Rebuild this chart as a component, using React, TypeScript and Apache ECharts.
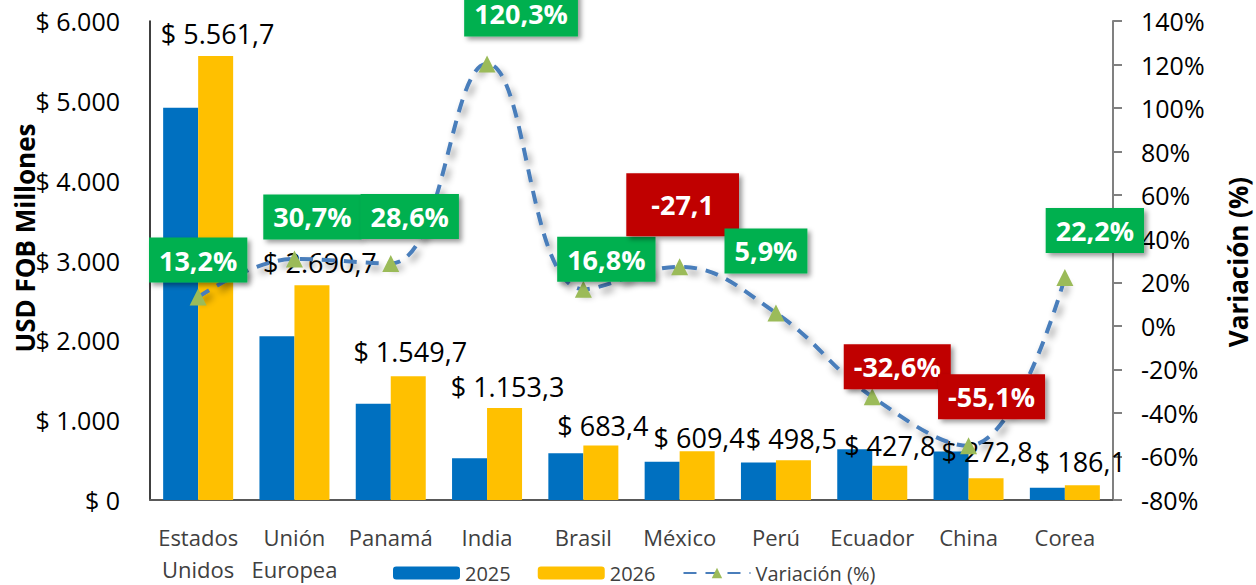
import React, { useEffect, useRef } from "react";
import * as echarts from "echarts";

const categories = ["Estados\nUnidos", "Unión\nEuropea", "Panamá", "India", "Brasil", "México", "Perú", "Ecuador", "China", "Corea"];
const values2025 = [4913, 2052, 1205, 523.5, 585, 479.5, 470.7, 634.7, 607.6, 152.3];
const values2026 = [5561.7, 2690.7, 1549.7, 1153.3, 683.4, 609.4, 498.5, 427.8, 272.8, 186.1];
const variation = [13.2, 30.7, 28.6, 120.3, 16.8, 27.1, 5.9, -32.6, -55.1, 22.2];
const variationLabels = ["13,2%", "30,7%", "28,6%", "120,3%", "16,8%", "-27,1", "5,9%", "-32,6%", "-55,1%", "22,2%"];
const leftTicks = { min: 0, max: 6000, interval: 1000 };
const rightTicks = { min: -80, max: 140, interval: 20 };

// label placement (layout only)
const varLabelOffsets = [[0, -37], [18, -42], [19, -47], [34, -50], [23, -30], [3, -62], [-10, -62], [25, -30], [23, -49], [30, -47]];
const valLabelOffsets = [[2, -1], [8, -1], [2, -3], [3, 0], [2, 2], [2, 8], [-2, 0], [0, 1], [1, -5], [-2, -2]];

const FONT = "'Open Sans', 'Noto Sans', sans-serif";

function fmtNum(v: number, dec: number): string {
  const s = v.toFixed(dec);
  const [i, d] = s.split(".");
  const neg = i.startsWith("-");
  const digits = neg ? i.slice(1) : i;
  const withSep = digits.replace(/\B(?=(\d{3})+(?!\d))/g, ".");
  return (neg ? "-" : "") + withSep + (d ? "," + d : "");
}

export default function App() {
  const ref = useRef<HTMLDivElement>(null);
  useEffect(() => {
    if (!ref.current) return;
    const chart = echarts.init(ref.current, null, { renderer: "svg" });
    const option: any = {
      animation: false,
      backgroundColor: "#ffffff",
      textStyle: { fontFamily: FONT },
      grid: { left: 150, right: 143, top: 21, bottom: 81, containLabel: false },
      legend: {
        left: 388,
        top: 558,
        itemWidth: 67,
        itemHeight: 13,
        itemGap: 27,
        textStyle: { fontFamily: FONT, fontSize: 20, color: "#404040" },
        data: ["2025", "2026", "Variación (%)"],
      },
      xAxis: {
        type: "category",
        data: categories,
        axisLine: { lineStyle: { color: "#595959", width: 2 } },
        axisTick: { show: false },
        axisLabel: { interval: 0, color: "#404040", fontSize: 22, lineHeight: 32, margin: 21, fontFamily: FONT },
      },
      yAxis: [
        {
          type: "value",
          min: leftTicks.min,
          max: leftTicks.max,
          interval: leftTicks.interval,
          splitLine: { show: false },
          axisLine: { show: true, lineStyle: { color: "#000000", width: 1.5 } },
          axisTick: { show: false },
          axisLabel: {
            margin: 30,
            color: "#000000",
            fontSize: 25,
            fontFamily: FONT,
            formatter: (v: number) => "$ " + fmtNum(v, 0),
          },
        },
        {
          type: "value",
          min: rightTicks.min,
          max: rightTicks.max,
          interval: rightTicks.interval,
          splitLine: { show: false },
          axisLine: { show: true, lineStyle: { color: "#808080", width: 2 } },
          axisTick: { show: true, length: 9, lineStyle: { color: "#808080", width: 2 } },
          axisLabel: { margin: 28, color: "#000000", fontSize: 25, fontFamily: FONT, formatter: "{value}%" },
        },
      ],
      series: [
        {
          name: "2025",
          type: "bar",
          data: values2025,
          barWidth: 35,
          barGap: "0%",
          itemStyle: { color: "#0070C0" },
        },
        {
          name: "2026",
          type: "bar",
          data: values2026.map((v, i) => ({
            value: v,
            label: { offset: valLabelOffsets[i] },
          })),
          barWidth: 35,
          itemStyle: { color: "#FFC000" },
          label: {
            show: true,
            position: "top",
            distance: 8,
            color: "#000000",
            fontSize: 27,
            fontFamily: FONT,
            formatter: (p: any) => "$ " + fmtNum(p.value, 1),
          },
          z: 3,
        },
        {
          name: "Variación (%)",
          type: "line",
          yAxisIndex: 1,
          smooth: 0.4,
          symbol: "triangle",
          symbolSize: 17,
          itemStyle: { color: "#9BBB59" },
          lineStyle: {
            color: "#4A7EBB",
            width: 4,
            type: [13, 9],
            shadowColor: "rgba(0,0,0,0.45)",
            shadowBlur: 7,
            shadowOffsetX: 3,
            shadowOffsetY: 5,
          },
          data: variation.map((v, i) => {
            const neg = variationLabels[i].startsWith("-");
            const big = i === 5;
            return {
              value: v,
              label: {
                offset: varLabelOffsets[i],
                backgroundColor: neg ? "#C00000" : "#00B050",
                padding: big ? [17, 25, 17, 25] : [8, 10, 8, 10],
              },
            };
          }),
          label: {
            show: true,
            position: "inside",
            color: "#ffffff",
            fontWeight: "bold",
            fontSize: 27,
            fontFamily: FONT,
            lineHeight: 29,
            shadowColor: "rgba(0,0,0,0.4)",
            shadowBlur: 5,
            shadowOffsetX: 3,
            shadowOffsetY: 3,
            formatter: (p: any) => variationLabels[p.dataIndex],
          },
          z: 5,
        },
      ],
      graphic: [
        {
          type: "text",
          x: 25,
          y: 238,
          rotation: Math.PI / 2,
          style: {
            text: "USD FOB Millones",
            fontFamily: FONT,
            fontSize: 26,
            fontWeight: "bold",
            fill: "#000000",
            textAlign: "center",
            textVerticalAlign: "middle",
          },
        },
        {
          type: "text",
          x: 1238,
          y: 262,
          rotation: Math.PI / 2,
          style: {
            text: "Variación (%)",
            fontFamily: FONT,
            fontSize: 26,
            fontWeight: "bold",
            fill: "#000000",
            textAlign: "center",
            textVerticalAlign: "middle",
          },
        },
      ],
    };
    chart.setOption(option);
    return () => chart.dispose();
  }, []);
  return <div ref={ref} style={{ position: "fixed", left: 0, top: 0, width: 1256, height: 585 }} />;
}
